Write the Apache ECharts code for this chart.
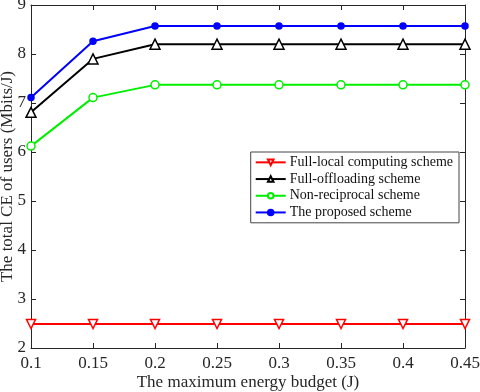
<!DOCTYPE html>
<html>
<head>
<meta charset="utf-8">
<script src="https://cdn.jsdelivr.net/npm/echarts@6/dist/echarts.min.js"></script>
<style>
  html, body { margin: 0; padding: 0; background: #fff; }
  #chart { width: 480px; height: 392px; }
</style>
</head>
<body>
<div id="chart"></div>
<script>
const budgets = [0.1, 0.15, 0.2, 0.25, 0.3, 0.35, 0.4, 0.45]
const fullLocal = [2.49, 2.49, 2.49, 2.49, 2.49, 2.49, 2.49, 2.49]
const fullOffload = [6.81, 7.90, 8.20, 8.20, 8.20, 8.20, 8.20, 8.20]
const nonReciprocal = [6.12, 7.11, 7.37, 7.37, 7.37, 7.37, 7.37, 7.37]
const proposed = [7.11, 8.26, 8.57, 8.57, 8.57, 8.57, 8.57, 8.57]

const font = 'Liberation Serif'
const axisColor = '#262626'
const textColor = '#262626'

function pairs(vals) {
  return budgets.map((b, i) => [b, vals[i]])
}

function line(name, vals, color, symbol, opts) {
  return {
    name,
    type: 'line',
    data: pairs(vals),
    symbol,
    symbolSize: opts.size,
    symbolRotate: opts.rotate || 0,
    lineStyle: { color, width: 2 },
    itemStyle: {
      color: opts.filled ? color : '#fff',
      borderColor: color,
      borderWidth: 1.5
    },
    emphasis: { disabled: true },
    z: opts.z
  }
}

const chart = echarts.init(document.getElementById('chart'))

// box edges on top and right, ticks only
const hidden = {
  axisLabel: { show: false },
  axisTick: { show: true, inside: true, length: 5, lineStyle: { color: axisColor } },
  axisLine: { show: true, lineStyle: { color: axisColor, width: 1 } },
  splitLine: { show: false }
}

chart.setOption({
  animation: false,
  textStyle: { fontFamily: font },
  grid: { left: 31, right: 15, top: 5, bottom: 44, outerBoundsMode: 'none' },
  legend: {
    orient: 'vertical',
    right: 21,
    top: 152,
    backgroundColor: '#fff',
    borderColor: '#444',
    borderWidth: 1,
    borderRadius: 0,
    padding: [2, 6, 2, 4],
    itemGap: 0,
    itemWidth: 30,
    itemHeight: 7,
    textStyle: { fontFamily: font, fontSize: 14, lineHeight: 16.7, color: '#111', padding: [0, 0, 0, -1] },
    data: ['Full-local computing scheme', 'Full-offloading scheme', 'Non-reciprocal scheme', 'The proposed scheme']
  },
  xAxis: [
    {
      type: 'value',
      min: 0.1,
      max: 0.45,
      interval: 0.05,
      name: 'The maximum energy budget (J)',
      nameLocation: 'middle',
      nameMoveOverlap: false,
      nameGap: 26,
      nameTextStyle: { fontFamily: font, fontSize: 17, color: textColor },
      axisLabel: { fontFamily: font, fontSize: 17, color: textColor, margin: 7, formatter: v => String(+v.toFixed(2)) },
      axisTick: { inside: true, length: 5, lineStyle: { color: axisColor } },
      axisLine: { lineStyle: { color: axisColor, width: 1 } },
      splitLine: { show: false }
    },
    Object.assign({ type: 'value', position: 'top', min: 0.1, max: 0.45, interval: 0.05 }, hidden)
  ],
  yAxis: [
    {
      type: 'value',
      min: 2,
      max: 9,
      interval: 1,
      name: 'The total CE of users (Mbits/J)',
      nameLocation: 'middle',
      nameMoveOverlap: false,
      nameGap: 15,
      nameTextStyle: { fontFamily: font, fontSize: 17, color: textColor },
      axisLabel: { fontFamily: font, fontSize: 17, color: textColor, margin: 5 },
      axisTick: { inside: true, length: 5, lineStyle: { color: axisColor } },
      axisLine: { show: true, lineStyle: { color: axisColor, width: 1 } },
      splitLine: { show: false }
    },
    Object.assign({ type: 'value', position: 'right', min: 2, max: 9, interval: 1 }, hidden)
  ],
  series: [
    line('Full-local computing scheme', fullLocal, '#ff0000', 'triangle', { size: 9, rotate: 180, z: 2 }),
    line('Full-offloading scheme', fullOffload, '#000000', 'triangle', { size: 10, z: 3 }),
    line('Non-reciprocal scheme', nonReciprocal, '#00ee00', 'circle', { size: 8, z: 4 }),
    line('The proposed scheme', proposed, '#0000ff', 'circle', { size: 6, filled: true, z: 5 })
  ]
})
</script>
</body>
</html>
